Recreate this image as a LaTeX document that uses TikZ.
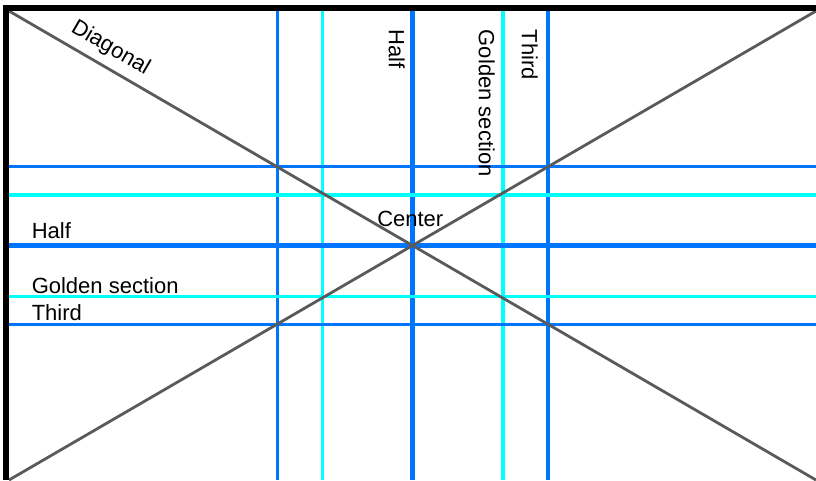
\documentclass[tikz,border=0pt]{standalone}
\usepackage{fontspec}
\setmainfont{Liberation Sans}
\usetikzlibrary{calc}
\definecolor{gridblue}{RGB}{0,118,255}
\definecolor{gridcyan}{RGB}{0,255,255}
\definecolor{diaggray}{RGB}{90,90,90}
\tikzset{
  frame/.style    = {draw=black, line width=4.5pt, line join=miter},
  thirdln/.style  = {draw=gridblue, line width=2.4pt},
  goldenln/.style = {draw=gridcyan, line width=2.3pt},
  halfln/.style   = {draw=gridblue, line width=3.9pt},
  diag/.style     = {draw=diaggray, line width=2.1pt},
  lbl/.style      = {inner sep=0pt, font=\fontsize{16.5}{19}\selectfont},
  vlbl/.style     = {lbl, rotate=-90, anchor=north west}
}
\begin{document}
\begin{tikzpicture}[x=0.75pt,y=-0.75pt]
  \useasboundingbox (0,0) rectangle (816,480);
  % ---- corners and centre of the frame ----
  \coordinate (tl) at (9,11);
  \coordinate (tr) at (816,11);
  \coordinate (bl) at (9,480);
  \coordinate (br) at (816,480);
  \coordinate (c)  at (412.5,245.5);
  % ---- vertical guides ----
  \foreach \x in {277.5,548}  \draw[thirdln]  (\x,11) -- (\x,480);
  \foreach \x in {322.5,503}  \draw[goldenln] (\x,11) -- (\x,480);
  \draw[halfln] (412.5,11) -- (412.5,480);
  % ---- horizontal guides ----
  \foreach \y in {166.5,324.5} \draw[thirdln]  (9,\y) -- (816,\y);
  \foreach \y in {195,296.5}   \draw[goldenln] (9,\y) -- (816,\y);
  \draw[halfln] (9,245.5) -- (816,245.5);
  % ---- diagonals ----
  \draw[diag] (tl) -- node[lbl, sloped, anchor=south, inner ysep=5.4pt, pos=0.114] (diaglbl) {Diagonal} (br);
  \draw[diag] (bl) -- (tr);
  % ---- frame (top and left edges) ----
  \draw[frame] (6,480) -- (6,8) -- (816,8);
  % ---- labels ----
  \node[vlbl] (vhalf)   at (405,29.5) {Half};
  \node[vlbl] (vgolden) at (495,29.5) {Golden section};
  \node[vlbl] (vthird)  at (538,29.5) {Third};
  \node[lbl, anchor=base west] (hhalf)   at (31.5,238.5) {Half};
  \node[lbl, anchor=base west] (hgolden) at (31.5,293)   {Golden section};
  \node[lbl, anchor=base west] (hthird)  at (31.5,320.5) {Third};
  \node[lbl, anchor=base west] (center)  at (377,226.5)  {Center};
\end{tikzpicture}
\end{document}
